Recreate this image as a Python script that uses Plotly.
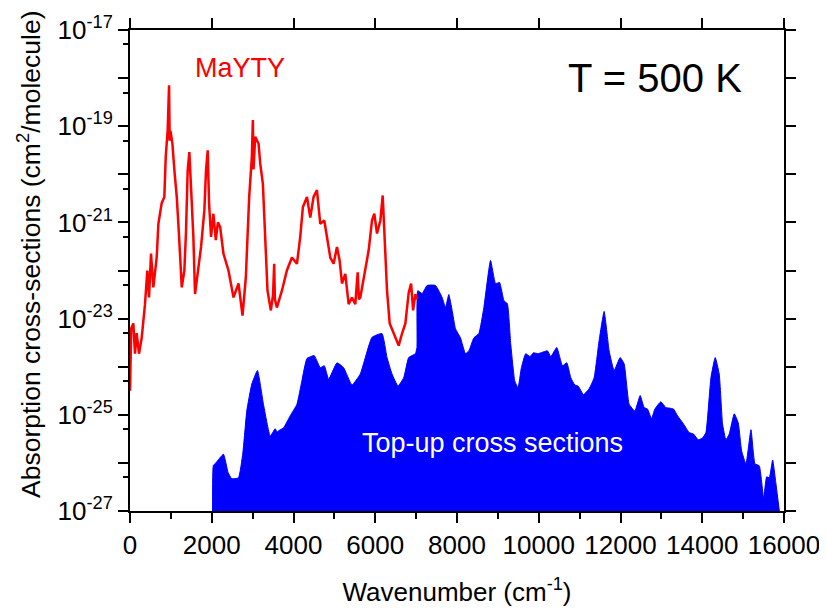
import numpy as np
import plotly.graph_objects as go

# MaYTY cross sections (wavenumber cm-1, log10 of cross-section)
red_x = [0, 30, 82, 122, 163, 220, 286, 367, 424, 465, 514, 571, 653, 694, 775, 840, 874, 922, 955, 970, 990,
         1037, 1086, 1144, 1201, 1266, 1330, 1371, 1411, 1452, 1493, 1550, 1591, 1656, 1738, 1819, 1860, 1901,
         1934, 1983, 2040, 2099, 2150, 2206, 2286, 2409, 2532, 2655, 2753, 2834, 2916, 2981, 3006, 3022, 3040,
         3063, 3145, 3186, 3251, 3308, 3364, 3446, 3500, 3527, 3545, 3593, 3716, 3838, 3961, 4084, 4165, 4230,
         4329, 4410, 4491, 4573, 4655, 4753, 4818, 4900, 4981, 5063, 5128, 5186, 5267, 5349, 5430, 5512, 5570,
         5600, 5634, 5757, 5839, 5920, 5977, 6043, 6125, 6182, 6210, 6230, 6288, 6353, 6451, 6573, 6655, 6737,
         6818, 6877, 6926, 6982, 7023]
red_log = [-24.5, -23.2, -23.1, -23.73, -23.3, -23.73, -23.4, -22.7, -22.0, -22.56, -21.65, -22.35, -21.73, -21.03,
           -20.6, -20.47, -19.64, -19.08, -18.15, -19.3, -19.1,
           -19.36, -19.92, -20.47, -21.3, -22.35, -22.0, -21.17, -19.92, -19.54, -20.27, -21.3, -22.49, -22.0, -21.51,
           -20.75, -19.92, -19.5,
           -20.6, -21.3, -20.82, -21.37, -21.0, -21.1, -21.65, -22.0, -22.56, -22.27, -22.94, -22.14, -20.47, -19.64,
           -18.87, -19.9, -19.5,
           -19.22, -19.36, -19.78, -20.2, -21.3, -22.42, -22.83, -22.5, -21.86, -22.6, -22.77, -22.42, -22.0, -21.73,
           -21.86, -21.3, -20.68,
           -20.47, -20.9, -20.47, -20.33, -21.03, -20.96, -21.3, -21.73, -21.86, -21.51, -21.79, -22.27, -22.07, -22.7,
           -22.56, -22.7, -22.04,
           -22.6, -22.56, -21.93, -21.58, -20.96, -20.82, -21.23, -20.96, -20.44, -21.0, -21.3, -22.42, -23.1, -23.31,
           -23.56, -23.31, -23.1,
           -22.46, -22.27, -22.83, -22.49, -22.6]

# Top-up cross sections
blue_x = [2020, 2040, 2100, 2286, 2400, 2490, 2653, 2760, 2857, 2980, 3118, 3265, 3431, 3553, 3600, 3635, 3700, 3758,
          3920, 4084, 4206, 4329, 4508, 4655, 4753, 4860, 5063, 5227, 5430, 5634, 5757, 5920, 6165, 6288, 6410, 6557,
          6696, 6818, 6982, 7020, 7040, 7146, 7269, 7473, 7636, 7718, 7799, 7881, 7963, 8085, 8208, 8290, 8412, 8534,
          8657, 8820, 8943, 9041, 9150, 9232, 9314, 9412, 9493, 9575, 9681, 9787, 9869, 9983, 10212, 10294, 10441,
          10580, 10686, 10784, 10882, 10963, 11094, 11231, 11354, 11476, 11599, 11722, 11844, 11991, 12089, 12212,
          12351, 12481, 12579, 12661, 12759, 12840, 12987, 13110, 13191, 13297, 13395, 13542, 13681, 13787, 13901,
          14008, 14089, 14212, 14317, 14415, 14497, 14579, 14660, 14783, 14881, 14963, 15069, 15192, 15290, 15395,
          15502, 15575, 15640, 15722, 15804, 15886]
blue_log = [-27.0, -26.05, -26.0, -25.82, -26.2, -26.33, -26.31, -25.8, -24.92, -24.36, -24.08, -24.78, -25.44, -25.29,
            -25.36, -25.33, -25.3, -25.27,
            -25.02, -24.78, -24.29, -23.83, -23.77, -24.02, -23.98, -24.26, -23.92, -24.02, -24.38, -24.15, -23.81,
            -23.39, -23.31, -23.81, -24.15, -24.4,
            -24.23, -23.81, -23.73, -23.6, -22.42, -22.48, -22.31, -22.31, -22.56, -22.77, -22.5, -22.83, -23.21, -23.4,
            -23.73, -23.67, -23.4, -23.31,
            -22.77, -21.79, -22.27, -22.25, -22.63, -22.69, -23.52, -24.29, -24.44, -24.02, -23.73, -23.79, -23.71,
            -23.73, -23.67, -23.79, -23.6,
            -23.98, -23.92, -24.23, -24.38, -24.4, -24.58, -24.46, -24.23, -23.46, -22.85, -23.67, -24.08, -23.81,
            -23.94, -24.78,
            -24.92, -24.6, -24.85, -24.88, -25.08, -24.88, -24.73, -24.85, -24.86, -24.88, -25.02, -25.19, -25.37,
            -25.4, -25.52,
            -25.48, -25.37, -24.23, -23.81, -24.15, -25.19, -25.52, -25.4, -24.98, -25.17, -25.75, -26.02, -25.31,
            -26.02, -26.06,
            -26.73, -26.29, -26.31, -25.94, -26.44, -27.0]

x_ticks = [0, 2000, 4000, 6000, 8000, 10000, 12000, 14000, 16000]
x_ticklabels = ["0", "2000", "4000", "6000", "8000", "10000", "12000", "14000", "16000"]
y_exponents = [-27, -26, -25, -24, -23, -22, -21, -20, -19, -18, -17]
y_labeled = [-27, -25, -23, -21, -19, -17]

FONT = "Liberation Sans, Arial, sans-serif"

y_tickvals = [10.0 ** e for e in y_exponents]
y_ticktext = [("10<sup>%d</sup>" % e) if e in y_labeled else "" for e in y_exponents]
y_minor = [5 * 10.0 ** e for e in y_exponents[:-1]]

fig = go.Figure()
fig.add_trace(go.Scatter(
    x=blue_x, y=np.power(10.0, blue_log), mode="lines", fill="toself",
    fillcolor="#0000FF", line=dict(color="#0000FF", width=1, shape="spline", smoothing=0.4),
    showlegend=False, hoverinfo="skip"))
fig.add_trace(go.Scatter(
    x=red_x, y=np.power(10.0, red_log), mode="lines",
    line=dict(color="#FF0000", width=2.5),
    showlegend=False))
# invisible trace to activate mirrored top/right axes
fig.add_trace(go.Scatter(x=[None], y=[None], xaxis="x2", yaxis="y2", showlegend=False))

axis_common = dict(showgrid=False, zeroline=False, showline=True, linecolor="black", linewidth=2,
                   ticks="outside", tickcolor="black", tickwidth=2, automargin=False)

# the page body adds an 8 px margin, so the figure is 8 px smaller on each axis
fig.update_layout(
    width=819, height=604,
    margin=dict(l=122, r=43, t=22, b=101),
    paper_bgcolor="white", plot_bgcolor="white",
    font=dict(family=FONT, color="black"),
    xaxis=dict(range=[0, 16000], tickmode="array", tickvals=x_ticks, ticktext=x_ticklabels, ticklen=10,
               minor=dict(dtick=1000, ticklen=6, tickwidth=2, tickcolor="black", ticks="outside"),
               tickfont=dict(size=26, family=FONT),
               title=dict(text="Wavenumber (cm<sup>-1</sup>)", font=dict(size=26, family=FONT), standoff=24),
               **axis_common),
    yaxis=dict(type="log", range=[-27, -17], tickmode="array", tickvals=y_tickvals, ticktext=y_ticktext,
               ticklen=10,
               minor=dict(tickmode="array", tickvals=y_minor, ticklen=5, tickwidth=2, tickcolor="black",
                          ticks="outside"),
               tickfont=dict(size=26, family=FONT),
               **axis_common),
    xaxis2=dict(overlaying="x", side="top", range=[0, 16000], tickvals=x_ticks, ticklen=10,
                showticklabels=False, **axis_common),
    yaxis2=dict(overlaying="y", side="right", type="log", range=[-27, -17], tickmode="array",
                tickvals=y_tickvals, ticklen=10, showticklabels=False, **axis_common),
)

# y-axis title (placed as rotated text, centred where the reference has it)
fig.add_annotation(text="Absorption cross-sections (cm<sup>2</sup>/molecule)", xref="paper", yref="paper",
                   x=(29 - 130) / 654, y=(511 - 255) / 481, xanchor="center", yanchor="middle",
                   textangle=-90, showarrow=False, font=dict(size=26.5, color="black", family=FONT))
fig.add_annotation(text="MaYTY", xref="paper", yref="paper", x=(240 - 130) / 654, y=(511 - 68) / 481,
                   xanchor="center", yanchor="middle",
                   showarrow=False, font=dict(size=27, color="#FF0000", family=FONT))
fig.add_annotation(text="T = 500 K", xref="paper", yref="paper", x=(655 - 130) / 654, y=(511 - 78) / 481,
                   xanchor="center", yanchor="middle",
                   showarrow=False, font=dict(size=40, color="black", family=FONT))
fig.add_annotation(text="Top-up cross sections", xref="paper", yref="paper", x=(492 - 130) / 654,
                   y=(511 - 443) / 481, xanchor="center", yanchor="middle",
                   showarrow=False, font=dict(size=27, color="white", family=FONT))

fig.write_html("out.html")
